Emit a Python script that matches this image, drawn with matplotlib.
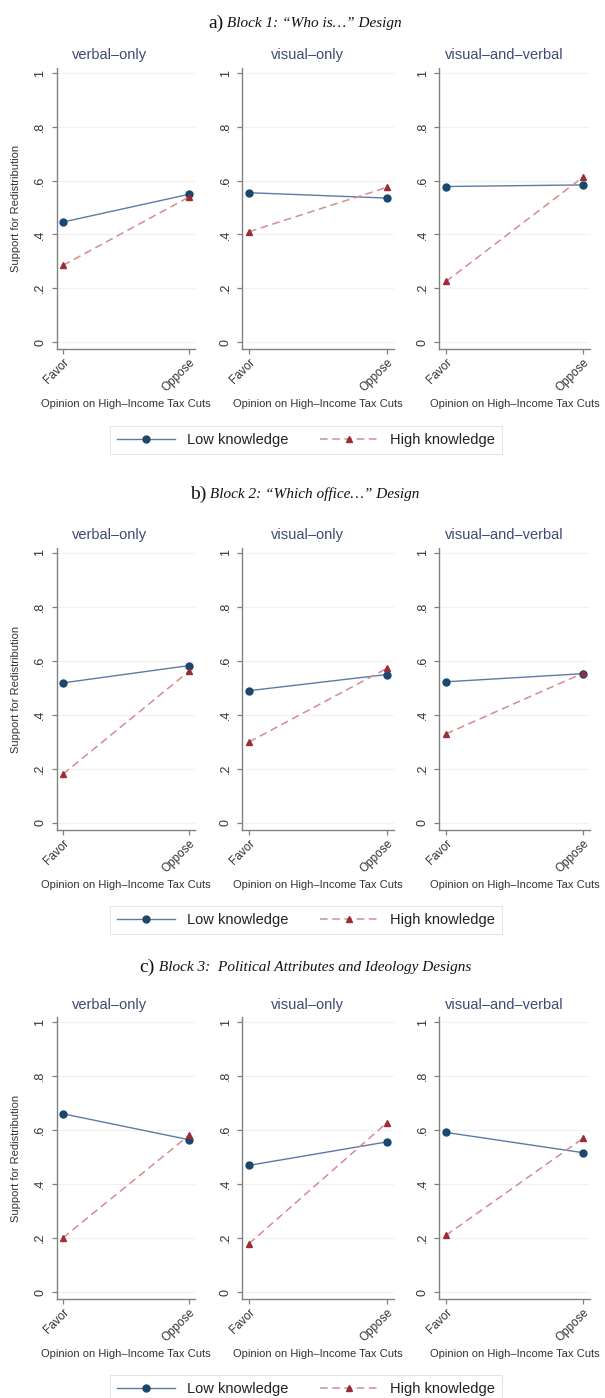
import numpy as np
import matplotlib
matplotlib.use("Agg")
import matplotlib.pyplot as plt
from matplotlib.lines import Line2D

# panels and x categories
PANELS = ["verbal\u2013only", "visual\u2013only", "visual\u2013and\u2013verbal"]
XCATS = ["Favor", "Oppose"]

# block titles (upright letter + italic text)
BLOCK_LETTERS = ["a)", "b)", "c)"]
BLOCK_TITLES = [" Block 1: \u201cWho is\u2026\u201d Design",
                " Block 2: \u201cWhich office\u2026\u201d Design",
                " Block 3:  Political Attributes and Ideology Designs"]

# support for redistribution, [panel][Favor, Oppose]
low_block1 = [[0.446, 0.549], [0.555, 0.535], [0.578, 0.584]]
high_block1 = [[0.285, 0.539], [0.410, 0.575], [0.225, 0.613]]
low_block2 = [[0.519, 0.583], [0.490, 0.550], [0.523, 0.553]]
high_block2 = [[0.181, 0.562], [0.300, 0.573], [0.330, 0.555]]
low_block3 = [[0.660, 0.564], [0.469, 0.556], [0.591, 0.516]]
high_block3 = [[0.201, 0.580], [0.179, 0.627], [0.210, 0.569]]

LOW = [low_block1, low_block2, low_block3]
HIGH = [high_block1, high_block2, high_block3]

YTICKS = [0, 0.2, 0.4, 0.6, 0.8, 1.0]
YTICKLABELS = ["0", ".2", ".4", ".6", ".8", "1"]

W, H = 605, 1398
fig = plt.figure(figsize=(W / 100, H / 100), dpi=100)
fig.patch.set_facecolor("white")

SANS = "Liberation Sans"
SERIF = "Liberation Serif"
TITLE_COL = "#3e4b72"
LOW_LINE, LOW_MARK = "#5b7ba6", "#1a476f"
HIGH_LINE, HIGH_MARK = "#d98a8e", "#9a2d36"

# pixel layout (top origin)
y0_px = [342, 823, 1292]      # pixel of y=0
y1_px = [73, 553, 1022]       # pixel of y=1
fav_px = [63, 249, 446]
opp_px = [189, 387, 583]
ptitle_x = [110, 307, 504]
ptitle_y = [55, 535, 1005]
btitle_y = [23, 494, 967]
legend_y = [440, 920, 1389]
YLO, YHI = -0.026, 1.019
XLO, XHI = -0.05, 1.05

renderer = fig.canvas.get_renderer()

for b in range(3):
    unit_y = y0_px[b] - y1_px[b]
    top = y1_px[b] - (YHI - 1) * unit_y
    bot = y0_px[b] - YLO * unit_y
    for p in range(3):
        unit_x = opp_px[p] - fav_px[p]
        left = fav_px[p] + XLO * unit_x
        width = (XHI - XLO) * unit_x
        ax = fig.add_axes([left / W, 1 - bot / H, width / W, (bot - top) / H])
        x = np.arange(len(XCATS))
        ax.plot(x, LOW[b][p], color=LOW_LINE, lw=1.0, zorder=3)
        ax.plot(x, LOW[b][p], ls="none", marker="o", ms=5, color=LOW_MARK, zorder=4)
        ax.plot(x, HIGH[b][p], color=HIGH_LINE, lw=1.1, ls=(0, (5, 3)), zorder=3)
        ax.plot(x, HIGH[b][p], ls="none", marker="^", ms=5, color=HIGH_MARK, zorder=4)

        ax.set_xlim(XLO, XHI)
        ax.set_ylim(YLO, YHI)
        ax.set_yticks(YTICKS)
        ax.set_yticklabels(YTICKLABELS, rotation=90, va="center", fontsize=9,
                           family=SANS, color="#333333")
        ax.set_xticks(x)
        ax.set_xticklabels(XCATS, rotation=45, ha="right", rotation_mode="anchor",
                           fontsize=8.5, family=SANS, color="#333333")
        ax.grid(axis="y", color="#eef0f3", lw=0.8)
        ax.set_axisbelow(True)
        for s in ["top", "right"]:
            ax.spines[s].set_visible(False)
        for s in ["left", "bottom"]:
            ax.spines[s].set_color("#808080")
            ax.spines[s].set_linewidth(1.0)
        ax.tick_params(axis="both", length=3.5, width=0.9, color="#808080")
        ax.tick_params(axis="y", pad=4)
        ax.tick_params(axis="x", pad=2)
        ax.set_xlabel("Opinion on High\u2013Income Tax Cuts", fontsize=8,
                      family=SANS, color="#333333")
        ax.xaxis.set_label_coords(0.5, -50 / (bot - top))
        if p == 0:
            ax.set_ylabel("Support for Redistribution", fontsize=8,
                          family=SANS, color="#333333")
            ax.yaxis.set_label_coords(-(left - 21) / width, 0.5)
        fig.text(ptitle_x[p] / W, 1 - ptitle_y[b] / H, PANELS[p], fontsize=10.5,
                 family=SANS, color=TITLE_COL, ha="center", va="center")

    # block title: upright letter followed by italic text, centred as a whole
    t1 = fig.text(0, 1 - btitle_y[b] / H, BLOCK_LETTERS[b], fontsize=14,
                  family=SERIF, ha="left", va="center", color="#111111")
    t2 = fig.text(0, 1 - btitle_y[b] / H, BLOCK_TITLES[b], fontsize=11,
                  family=SERIF, style="italic", ha="left", va="center",
                  color="#111111")
    w1 = t1.get_window_extent(renderer).width
    w2 = t2.get_window_extent(renderer).width
    x_start = 305 - (w1 + w2) / 2
    t1.set_x(x_start / W)
    t2.set_x((x_start + w1) / W)

    handles = [Line2D([], [], color=LOW_LINE, lw=1.0, marker="o", ms=5,
                      markerfacecolor=LOW_MARK, markeredgecolor=LOW_MARK),
               Line2D([], [], color=HIGH_LINE, lw=1.1, ls=(0, (5, 3)), marker="^",
                      ms=5, markerfacecolor=HIGH_MARK, markeredgecolor=HIGH_MARK)]
    leg = fig.legend(handles, ["Low knowledge", "High knowledge"], ncol=2,
                     loc="center", bbox_to_anchor=(306 / W, 1 - legend_y[b] / H),
                     prop={"family": SANS, "size": 10.5}, handlelength=4,
                     columnspacing=2.2, fancybox=False, framealpha=1,
                     borderpad=0.5)
    leg.get_frame().set_edgecolor("#e1e6ee")
    leg.get_frame().set_linewidth(0.8)
    for t in leg.get_texts():
        t.set_color("#222222")

fig.savefig("out.png", dpi=100, facecolor="white")
